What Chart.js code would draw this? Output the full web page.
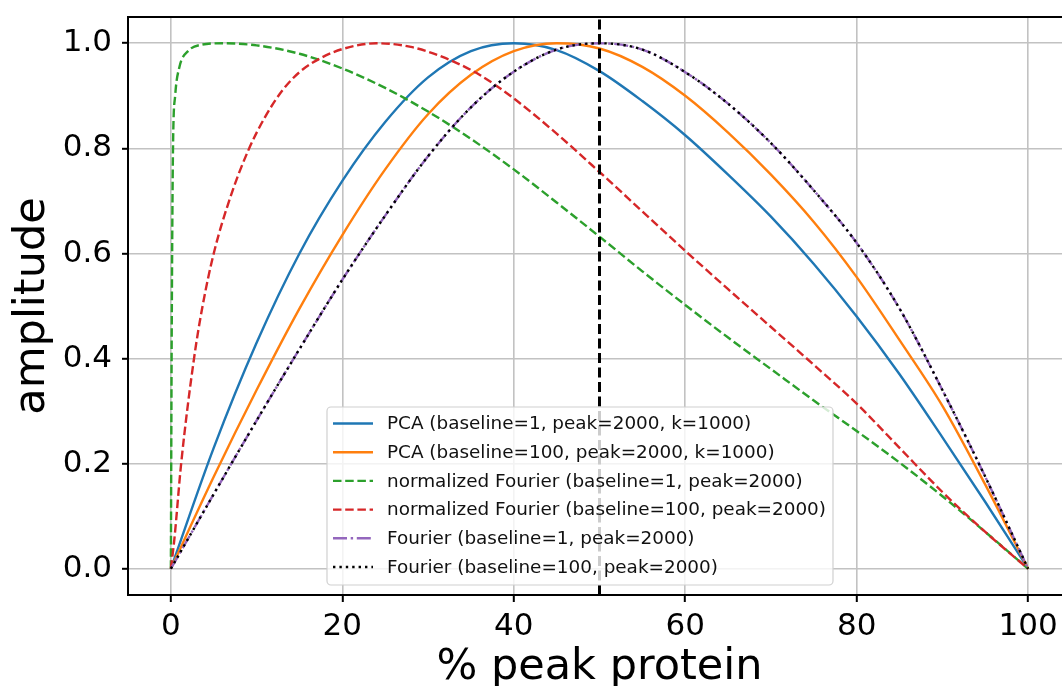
<!DOCTYPE html>
<html>
<head>
<meta charset="utf-8">
<script src="https://cdn.jsdelivr.net/npm/chart.js@4/dist/chart.umd.min.js"></script>
<style>
  html, body { margin: 0; padding: 0; background: #fff; overflow: hidden; }
  #wrap { position: relative; width: 1078px; height: 686px; }
</style>
</head>
<body>
<div id="wrap"><canvas id="chart"></canvas></div>
<script>
// x positions (% peak protein) used for the smooth curves
const xGrid = [0, 5, 10, 15, 20, 25, 30, 35, 40, 45, 50, 55, 60, 65, 70, 75, 80, 85, 90, 95, 100];

const pcaB1 = [0, 0.23, 0.43, 0.60, 0.738, 0.85, 0.935, 0.985, 1.0, 0.987, 0.947, 0.89, 0.825, 0.75, 0.67, 0.58, 0.48, 0.37, 0.25, 0.127, 0];
const pcaB100 = [0, 0.175, 0.34, 0.495, 0.635, 0.76, 0.865, 0.94, 0.985, 1.0, 0.99, 0.955, 0.90, 0.83, 0.75, 0.66, 0.555, 0.435, 0.31, 0.16, 0];
const fourierB1 = [0, 0.142, 0.282, 0.418, 0.55, 0.672, 0.785, 0.878, 0.946, 0.988, 1.0, 0.988, 0.945, 0.885, 0.81, 0.72, 0.62, 0.495, 0.34, 0.175, 0];
const fourierB100 = [0, 0.142, 0.282, 0.418, 0.55, 0.672, 0.785, 0.878, 0.946, 0.988, 1.0, 0.988, 0.945, 0.885, 0.81, 0.72, 0.62, 0.495, 0.34, 0.175, 0];

// normalized Fourier curves rise very steeply near 0, so they get their own x lists
const normB1X = [0, 0.1, 0.25, 0.5, 1, 2, 3.5, 6, 10, 15, 20, 25, 30, 35, 40, 45, 50, 55, 60, 65, 70, 75, 80, 85, 90, 95, 100];
const normB1 = [0, 0.45, 0.8, 0.9, 0.955, 0.985, 0.997, 1.0, 0.996, 0.98, 0.952, 0.915, 0.87, 0.818, 0.76, 0.697, 0.632, 0.566, 0.502, 0.44, 0.38, 0.32, 0.262, 0.202, 0.138, 0.07, 0];
const normB100X = [0, 0.4, 1.2, 2.7, 3.7, 5, 7, 9, 11, 13, 15, 17.5, 20, 24, 28, 32, 36, 40, 45, 50, 55, 60, 65, 70, 75, 80, 85, 90, 95, 100];
const normB100 = [0, 0.055, 0.2, 0.4, 0.5, 0.6, 0.71, 0.795, 0.86, 0.91, 0.945, 0.972, 0.989, 1.0, 0.993, 0.972, 0.94, 0.895, 0.828, 0.755, 0.68, 0.605, 0.532, 0.46, 0.388, 0.314, 0.23, 0.146, 0.07, 0];

const labels = [
  "PCA (baseline=1, peak=2000, k=1000)",
  "PCA (baseline=100, peak=2000, k=1000)",
  "normalized Fourier (baseline=1, peak=2000)",
  "normalized Fourier (baseline=100, peak=2000)",
  "Fourier (baseline=1, peak=2000)",
  "Fourier (baseline=100, peak=2000)"
];

const xTicks = [0, 20, 40, 60, 80, 100];
const yTicks = [0, 0.2, 0.4, 0.6, 0.8, 1.0];
const xMin = -5, xMax = 105;
const yMin = -0.05, yMax = 1.05;
const vlineX = 50;

const FONT = "'DejaVu Sans', sans-serif";

function pts(xs, ys) {
  return xs.map((x, i) => ({ x: x, y: ys[i] }));
}

function series(label, xs, ys, color, dash, order) {
  return {
    label: label,
    data: pts(xs, ys),
    borderColor: color,
    backgroundColor: color,
    borderWidth: 2.4,
    borderDash: dash,
    borderCapStyle: "butt",
    pointRadius: 0,
    cubicInterpolationMode: "monotone",
    fill: false,
    order: order
  };
}

const datasets = [
  series(labels[0], xGrid, pcaB1, "#1f77b4", [], 6),
  series(labels[1], xGrid, pcaB100, "#ff7f0e", [], 5),
  series(labels[2], normB1X, normB1, "#2ca02c", [8.5, 3.7], 4),
  series(labels[3], normB100X, normB100, "#d62728", [8.5, 3.7], 3),
  series(labels[4], xGrid, fourierB1, "#9467bd", [14, 3.7, 2.4, 3.7], 2),
  series(labels[5], xGrid, fourierB100, "#000000", [2.4, 4], 1),
  {
    label: "",
    data: [{ x: vlineX, y: yMin }, { x: vlineX, y: yMax }],
    borderColor: "#000",
    borderWidth: 3,
    borderDash: [10, 4.5],
    pointRadius: 0,
    order: 0
  }
];

// top spine + matplotlib style legend box
const decor = {
  id: "decor",
  afterDraw(chart) {
    const ctx = chart.ctx;
    const a = chart.chartArea;
    ctx.save();
    ctx.strokeStyle = "#000";
    ctx.lineWidth = 2;
    ctx.beginPath();
    ctx.moveTo(a.left, a.top);
    ctx.lineTo(a.right, a.top);
    ctx.stroke();

    const bx = 327, by = 407, bw = 506, bh = 178;
    ctx.fillStyle = "rgba(255,255,255,0.8)";
    ctx.strokeStyle = "#d0d0d0";
    ctx.lineWidth = 1.2;
    ctx.beginPath();
    ctx.roundRect(bx, by, bw, bh, 4);
    ctx.fill();
    ctx.stroke();

    ctx.font = "18.4px " + FONT;
    ctx.textBaseline = "middle";
    ctx.textAlign = "left";
    chart.data.datasets.forEach((d, i) => {
      if (!d.label) return;
      const y = 423.5 + i * 28.7;
      ctx.strokeStyle = d.borderColor;
      ctx.lineWidth = d.borderWidth;
      ctx.setLineDash(d.borderDash);
      ctx.beginPath();
      ctx.moveTo(333, y);
      ctx.lineTo(373, y);
      ctx.stroke();
      ctx.setLineDash([]);
      ctx.fillStyle = "#111";
      ctx.fillText(d.label, 387, y + 1);
    });
    ctx.restore();
  }
};

new Chart(document.getElementById("chart"), {
  type: "line",
  data: { datasets: datasets },
  options: {
    responsive: true,
    maintainAspectRatio: false,
    animation: false,
    layout: { padding: { top: 17, right: 7, left: 0, bottom: 0 } },
    plugins: { legend: { display: false }, tooltip: { enabled: false } },
    scales: {
      x: {
        type: "linear",
        min: xMin,
        max: xMax,
        afterBuildTicks: s => { s.ticks = xTicks.map(v => ({ value: v })); },
        afterFit: s => { s.height = 91; s.paddingLeft = 0; s.paddingRight = 0; },
        ticks: {
          autoSkip: false,
          maxRotation: 0,
          color: "#000",
          padding: 6,
          font: { family: FONT, size: 31 },
          callback: v => String(v)
        },
        grid: { color: "#c2c2c2", lineWidth: 1.6, tickColor: "#000", tickLength: 7, tickWidth: 2 },
        border: { color: "#000", width: 2 },
        title: {
          display: true,
          text: "% peak protein",
          color: "#000",
          padding: 0,
          font: { family: FONT, size: 43, lineHeight: 0.85 }
        }
      },
      y: {
        type: "linear",
        min: yMin,
        max: yMax,
        afterBuildTicks: s => { s.ticks = yTicks.map(v => ({ value: v })); },
        afterFit: s => { s.width = 128; s.paddingTop = 0; s.paddingBottom = 0; },
        ticks: {
          autoSkip: false,
          color: "#000",
          padding: 10,
          font: { family: FONT, size: 31 },
          callback: v => v.toFixed(1)
        },
        grid: { color: "#c2c2c2", lineWidth: 1.6, tickColor: "#000", tickLength: 6, tickWidth: 2 },
        border: { color: "#000", width: 2 },
        title: {
          display: true,
          text: "amplitude",
          color: "#000",
          padding: { top: 13, bottom: 0 },
          font: { family: FONT, size: 43, lineHeight: 0.9 }
        }
      }
    }
  },
  plugins: [decor]
});
</script>
</body>
</html>
